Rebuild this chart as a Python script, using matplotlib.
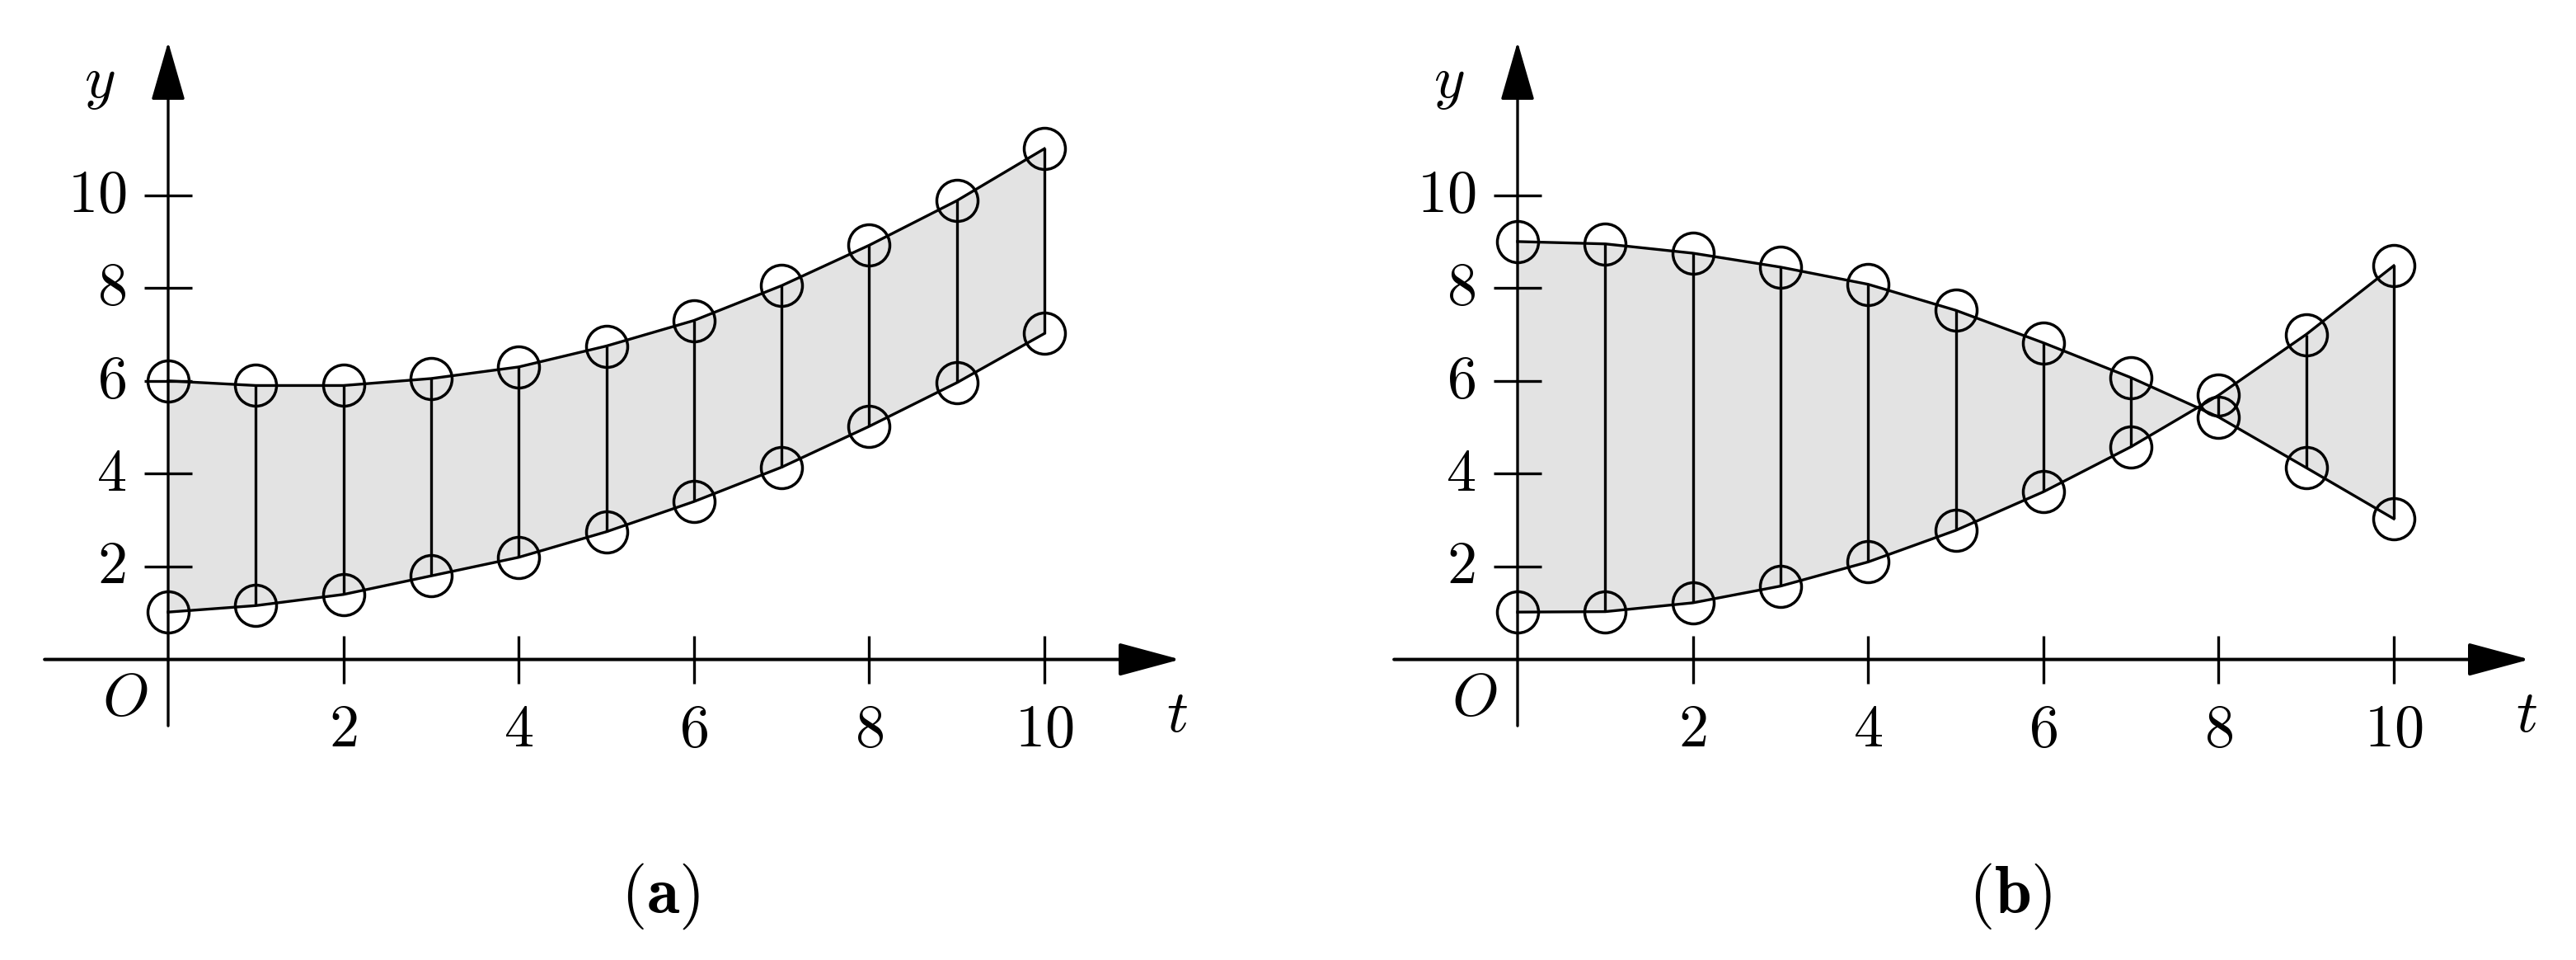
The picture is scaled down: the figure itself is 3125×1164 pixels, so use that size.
import numpy as np
import matplotlib
matplotlib.use("Agg")
import matplotlib.pyplot as plt
from matplotlib.patches import ArrowStyle

plt.rcParams['mathtext.fontset'] = 'cm'
plt.rcParams['font.family'] = ['DejaVu Serif']

# ---- data ----
t = [0, 1, 2, 3, 4, 5, 6, 7, 8, 9, 10]
a_upper = [6.0, 5.9, 5.9, 6.05, 6.3, 6.75, 7.3, 8.05, 8.92, 9.88, 11.0]
a_lower = [1.02, 1.16, 1.4, 1.8, 2.2, 2.75, 3.4, 4.14, 5.02, 5.96, 7.02]
b_upper = [9.0, 8.95, 8.75, 8.45, 8.08, 7.52, 6.82, 6.07, 5.22, 4.13, 3.03]
b_lower = [1.02, 1.03, 1.22, 1.58, 2.1, 2.78, 3.61, 4.58, 5.69, 7.0, 8.48]
x_ticks = [2, 4, 6, 8, 10]
y_ticks = [2, 4, 6, 8, 10]
captions = [r'$(\mathbf{a})$', r'$(\mathbf{b})$']

W, H = 3125, 1164
fig = plt.figure(figsize=(W / 100, H / 100), dpi=100)

XL = (-1.8, 12.0)
YL = (-2.0, 13.6)
UX, UY = 106.3, 56.3   # pixels per data unit
AXIS_Y_PX = 799.6       # pixel row of y=0 (from top)

FS = 52
LW_AX = 2.9
LW = 2.4
GRAY = '#e3e3e3'


def make_ax(origin_x_px):
    left = origin_x_px + XL[0] * UX
    width = (XL[1] - XL[0]) * UX
    bottom_top = AXIS_Y_PX - YL[0] * UY
    height = (YL[1] - YL[0]) * UY
    ax = fig.add_axes([left / W, (H - bottom_top) / H, width / W, height / H])
    ax.set_xlim(XL)
    ax.set_ylim(YL)
    ax.axis('off')
    return ax


def draw_panel(ax, upper, lower):
    tt = np.array(t, dtype=float)
    up = np.array(upper)
    lo = np.array(lower)
    ax.fill_between(tt, lo, up, color=GRAY, lw=0, interpolate=True, zorder=1)
    ax.plot(tt, up, color='black', lw=LW, zorder=3)
    ax.plot(tt, lo, color='black', lw=LW, zorder=3)
    ax.vlines(tt[1:], lo[1:], up[1:], color='black', lw=LW, zorder=3)
    ax.plot(tt, up, ls='none', marker='o', ms=36, mfc='none', mec='black', mew=2.5, zorder=5)
    ax.plot(tt, lo, ls='none', marker='o', ms=36, mfc='none', mec='black', mew=2.5, zorder=5)

    # axes with arrows
    ax.annotate('', xy=(11.55, 0), xytext=(-1.41, 0),
                arrowprops=dict(arrowstyle=ArrowStyle('-|>', head_length=46.8, head_width=12.6),
                                lw=LW_AX, color='black', shrinkA=0, shrinkB=0, mutation_scale=1),
                zorder=4)
    ax.annotate('', xy=(0, 13.3), xytext=(0, -1.43),
                arrowprops=dict(arrowstyle=ArrowStyle('-|>', head_length=45, head_width=13),
                                lw=LW, color='black', shrinkA=0, shrinkB=0, mutation_scale=1),
                zorder=4)
    # ticks
    ax.vlines(x_ticks, -0.515, 0.515, color='black', lw=LW, zorder=4)
    ax.hlines(y_ticks, -0.27, 0.27, color='black', lw=LW, zorder=4)
    for v in x_ticks:
        ax.text(v, -1.52, f'${v}$', ha='center', va='center', fontsize=FS)
    for v in y_ticks:
        ax.text(-0.48, v, f'${v}$', ha='right', va='center', fontsize=FS)
    ax.text(-0.49, -0.84, r'$O$', ha='center', va='center', fontsize=FS)
    ax.text(11.51, -1.2, r'$t$', ha='center', va='center', fontsize=FS)
    ax.text(-0.78, 12.43, r'$y$', ha='center', va='center', fontsize=FS)


ax_a = make_ax(204)
draw_panel(ax_a, a_upper, a_lower)
ax_b = make_ax(1841)
draw_panel(ax_b, b_upper, b_lower)

fig.text(801 / W, 1 - 1087 / H, captions[0], ha='center', va='center', fontsize=58)
fig.text(2439 / W, 1 - 1087 / H, captions[1], ha='center', va='center', fontsize=58)

fig.savefig('out.png', dpi=100, facecolor='white')
